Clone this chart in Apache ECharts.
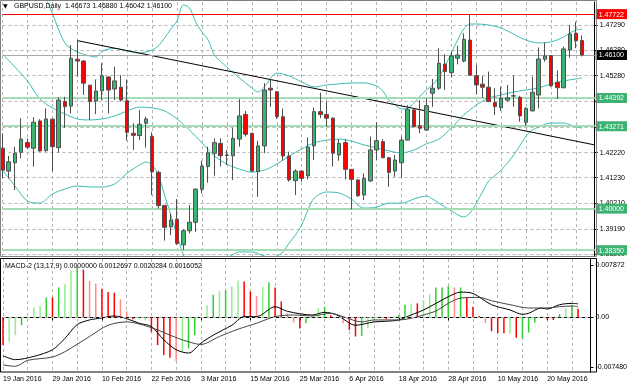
<!DOCTYPE html>
<html><head><meta charset="utf-8">
<script src="https://cdn.jsdelivr.net/npm/echarts@6/dist/echarts.min.js"></script>
<style>html,body{margin:0;padding:0;background:#fff}#c{width:630px;height:388px}</style>
</head><body><div id="c"></div>
<script>
const dates = ['19 Jan 2016','20 Jan 2016','21 Jan 2016','22 Jan 2016','25 Jan 2016','26 Jan 2016','27 Jan 2016','28 Jan 2016','29 Jan 2016',
'1 Feb 2016','2 Feb 2016','3 Feb 2016','4 Feb 2016','5 Feb 2016','8 Feb 2016','9 Feb 2016','10 Feb 2016','11 Feb 2016','12 Feb 2016',
'15 Feb 2016','16 Feb 2016','17 Feb 2016','18 Feb 2016','19 Feb 2016','22 Feb 2016','23 Feb 2016','24 Feb 2016','25 Feb 2016','26 Feb 2016','29 Feb 2016',
'1 Mar 2016','2 Mar 2016','3 Mar 2016','4 Mar 2016','7 Mar 2016','8 Mar 2016','9 Mar 2016','10 Mar 2016','11 Mar 2016','14 Mar 2016','15 Mar 2016',
'16 Mar 2016','17 Mar 2016','18 Mar 2016','21 Mar 2016','22 Mar 2016','23 Mar 2016','24 Mar 2016','25 Mar 2016','28 Mar 2016','29 Mar 2016','30 Mar 2016','31 Mar 2016',
'1 Apr 2016','4 Apr 2016','5 Apr 2016','6 Apr 2016','7 Apr 2016','8 Apr 2016','11 Apr 2016','12 Apr 2016','13 Apr 2016','14 Apr 2016','15 Apr 2016',
'18 Apr 2016','19 Apr 2016','20 Apr 2016','21 Apr 2016','22 Apr 2016','25 Apr 2016','26 Apr 2016','27 Apr 2016','28 Apr 2016','29 Apr 2016',
'2 May 2016','3 May 2016','4 May 2016','5 May 2016','6 May 2016','9 May 2016','10 May 2016','11 May 2016','12 May 2016','13 May 2016',
'16 May 2016','17 May 2016','18 May 2016','19 May 2016','20 May 2016','23 May 2016','24 May 2016','25 May 2016','26 May 2016','27 May 2016'];

const openP  = [1.4240,1.4149,1.4182,1.4224,1.4263,1.4240,1.4348,1.4230,1.4355,1.4242,1.4425,1.4407,1.4593,1.4586,1.4490,1.4427,1.4468,1.4523,1.4475,1.4482,
1.4428,1.4299,1.4290,1.4339,1.4286,1.4144,1.4013,1.3928,1.3958,1.3856,1.3912,1.3946,1.4077,1.4167,1.4220,1.4259,1.4211,1.4210,1.4276,1.4374,
1.4299,1.4147,1.4249,1.4478,1.4464,1.4365,1.4209,1.4111,1.4149,1.4130,1.4249,1.4385,1.4374,1.4359,1.4213,1.4262,1.4156,1.4114,1.4054,1.4110,
1.4233,1.4266,1.4202,1.4149,1.4182,1.4272,1.4392,1.4329,1.4312,1.4458,1.4478,1.4574,1.4540,1.4597,1.4586,1.4669,1.4528,1.4494,1.4482,1.4421,
1.4401,1.4431,1.4448,1.4442,1.4343,1.4388,1.4451,1.4593,1.4607,1.4502,1.4480,1.4630,1.4696,1.46673];
const highP  = [1.4299,1.4209,1.4246,1.4359,1.4279,1.4363,1.4355,1.4398,1.4359,1.4442,1.4444,1.4650,1.4667,1.4589,1.4491,1.4513,1.4577,1.4524,1.4563,1.4530,
1.4513,1.4339,1.4392,1.4365,1.4303,1.4151,1.4014,1.3981,1.4038,1.3918,1.4014,1.4081,1.4190,1.4246,1.4279,1.4279,1.4233,1.4321,1.4435,1.4388,
1.4301,1.4269,1.4498,1.4513,1.4466,1.4398,1.4226,1.4156,1.4153,1.4283,1.4402,1.4460,1.4425,1.4363,1.4276,1.4276,1.4157,1.4116,1.4140,1.4286,
1.4343,1.4276,1.4206,1.4213,1.4286,1.4411,1.4398,1.4431,1.4438,1.4515,1.4637,1.4613,1.4623,1.4647,1.4696,1.4772,1.4570,1.4527,1.4544,1.4478,
1.4484,1.4491,1.4530,1.4448,1.4402,1.4524,1.4640,1.4660,1.4610,1.4548,1.4643,1.4729,1.4742,1.46880];
const lowP   = [1.4120,1.4120,1.4074,1.4200,1.4236,1.4167,1.4226,1.4226,1.4147,1.4222,1.4321,1.4378,1.4524,1.4451,1.4352,1.4375,1.4431,1.4378,1.4431,1.4425,
1.4270,1.4233,1.4272,1.4242,1.4054,1.4001,1.3873,1.3895,1.3856,1.3836,1.3902,1.3908,1.4061,1.4103,1.4131,1.4167,1.4173,1.4114,1.4246,1.4286,
1.4147,1.4047,1.4220,1.4404,1.4356,1.4190,1.4107,1.4054,1.4107,1.4116,1.4193,1.4359,1.4325,1.4167,1.4190,1.4116,1.3997,1.4047,1.4034,1.4107,
1.4193,1.4200,1.4087,1.4127,1.4124,1.4270,1.4323,1.4299,1.4309,1.4404,1.4471,1.4471,1.4520,1.4573,1.4581,1.4527,1.4454,1.4440,1.4423,1.4372,
1.4388,1.4425,1.4404,1.4345,1.4329,1.4386,1.4398,1.4583,1.4484,1.4435,1.4478,1.4599,1.4637,1.46042];
const closeP = [1.4153,1.4186,1.4220,1.4276,1.4244,1.4343,1.4229,1.4356,1.4246,1.4431,1.4405,1.4597,1.4586,1.4498,1.4425,1.4467,1.4527,1.4471,1.4507,1.4431,
1.4303,1.4291,1.4335,1.4356,1.4147,1.4012,1.3926,1.3955,1.3862,1.3912,1.3946,1.4077,1.4169,1.4222,1.4262,1.4210,1.4213,1.4279,1.4368,1.4295,
1.4149,1.4249,1.4471,1.4471,1.4365,1.4209,1.4114,1.4149,1.4120,1.4244,1.4385,1.4374,1.4359,1.4220,1.4259,1.4156,1.4116,1.4051,1.4120,1.4233,
1.4270,1.4202,1.4144,1.4193,1.4272,1.4394,1.4325,1.4319,1.4409,1.4478,1.4577,1.4544,1.4606,1.4610,1.4672,1.4530,1.4491,1.4482,1.4425,1.4405,
1.4438,1.4440,1.4447,1.4368,1.4398,1.4462,1.4594,1.4606,1.4488,1.4480,1.4634,1.4693,1.4666,1.46100];

// Bollinger bands: [bar index, price]
const bbUpperPts = [[0,1.505],[4,1.492],[7,1.483],[10,1.4658],[12,1.4622],[14,1.4606],[15,1.4602],[16,1.4626],[18,1.4636],[20,1.4626],[22,1.4618],
[24,1.4630],[25,1.4646],[26,1.4677],[27,1.4713],[28,1.4745],[29,1.4809],[30,1.4796],[31,1.4741],[32,1.4701],[33,1.4669],[34,1.4610],[36,1.4562],
[38,1.4519],[40,1.4479],[41,1.4463],[42,1.4483],[44,1.4538],[46,1.4527],[48,1.4503],[50,1.4483],[52,1.4491],[54,1.4495],[56,1.4499],[58,1.4499],
[60,1.4487],[61,1.4467],[62,1.4431],[63,1.4411],[64,1.4396],[65,1.4399],[66,1.4419],[67,1.4447],[68,1.4471],[69,1.4491],[70,1.4523],[71,1.4566],
[72,1.4618],[73,1.4669],[74,1.4713],[75,1.4733],[76,1.4733],[78,1.4729],[80,1.4717],[82,1.4693],[84,1.4669],[86,1.4658],[88,1.4662],[90,1.4681],
[91,1.4697],[92,1.4709],[93,1.4713]];
const bbMiddlePts = [[0,1.4614],[2,1.4562],[4,1.4507],[6,1.4435],[8,1.4400],[10,1.4376],[12,1.4356],[14,1.4352],[16,1.4356],[18,1.4368],[20,1.4388],
[22,1.4403],[24,1.4400],[26,1.4388],[28,1.4356],[30,1.4312],[32,1.4261],[34,1.4209],[36,1.4177],[38,1.4157],[40,1.4145],[42,1.4153],[44,1.4177],
[46,1.4209],[48,1.4237],[50,1.4261],[52,1.4272],[54,1.4276],[56,1.4268],[58,1.4253],[60,1.4241],[62,1.4229],[64,1.4221],[66,1.4233],[68,1.4257],
[70,1.4276],[72,1.4320],[74,1.4372],[76,1.4411],[78,1.4439],[80,1.4451],[82,1.4463],[84,1.4471],[86,1.4479],[88,1.4495],[90,1.4507],[92,1.4515],[93,1.4519]];
const bbLowerPts = [[0,1.4153],[2,1.4090],[4,1.4030],[6,1.4022],[8,1.4058],[10,1.4078],[12,1.4090],[14,1.4086],[16,1.4086],[18,1.4098],[20,1.4141],
[22,1.4173],[23,1.4185],[24,1.4173],[25,1.4134],[26,1.4054],[27,1.3975],[28,1.3895],[29,1.3816],[30,1.3765],[31,1.3740],[32,1.3725],[33,1.3740],
[34,1.3770],[35,1.3795],[36,1.3804],[38,1.3828],[40,1.3828],[42,1.3812],[43,1.3808],[44,1.3812],[45,1.3828],[46,1.3864],[47,1.3895],[48,1.3935],
[49,1.3995],[50,1.4042],[52,1.4066],[54,1.4062],[56,1.4038],[57,1.4014],[58,1.4002],[60,1.4006],[62,1.4022],[64,1.4022],[66,1.4038],[67,1.4046],
[68,1.4050],[69,1.4038],[70,1.4022],[72,1.3991],[74,1.3967],[75,1.3983],[76,1.4022],[77,1.4066],[78,1.4110],[80,1.4153],[82,1.4213],[84,1.4288],
[85,1.4312],[86,1.4324],[88,1.4340],[90,1.4340],[92,1.4324],[93,1.4320]];

const trendLine = [[12,1.4667],[95,1.4253]];
const resistanceLevel = 1.47722;
const bidLevel = 1.46100;
const supportLevels = [1.44392,1.43271,1.40000,1.38350];
const priceTicks = [1.47290,1.46280,1.45280,1.44260,1.43250,1.42220,1.41230,1.40210,1.39190,1.38200];

// MACD-2 (13,17,9)
const macdHist = [-0.0042,-0.0037,-0.0027,-0.0012,-0.0002,0.0015,0.0017,0.0030,0.0030,0.0045,0.0050,0.0070,0.0075,0.0072,0.0055,0.0051,0.0043,0.0038,0.0037,0.0027,
0.0009,-0.0003,-0.0003,-0.0005,-0.0022,-0.0042,-0.0057,-0.0061,-0.0066,-0.0052,-0.0047,-0.0027,-0.0001,0.0018,0.0034,0.0040,0.0041,0.0047,0.0055,0.0054,
0.0039,0.0032,0.0046,0.0053,0.0045,0.0024,0.0006,-0.0008,-0.0017,-0.0009,0.0004,0.0014,0.0016,0.0003,0.0001,-0.0009,-0.0019,-0.0029,-0.0028,-0.0016,
-0.0007,0.0001,-0.0003,0.0001,0.0003,0.0019,0.0021,0.0021,0.0026,0.0035,0.0045,0.0045,0.0047,0.0045,0.0045,0.0030,0.0016,0.0002,-0.0009,-0.0021,
-0.0024,-0.0024,-0.0025,-0.0031,-0.0032,-0.0023,-0.0008,0.0002,-0.0003,-0.0004,0.0005,0.0014,0.0019,0.0013];
const macdHistColor = ['R','g','g','G','g','g','g','G','R','G','g','g','G','R','r','r','R','R','R','r',
'r','R','g','g','R','R','R','R','r','g','G','G','g','g','G','g','G','g','g','R',
'R','r','g','G','R','R','r','r','R','G','g','g','G','R','r','r','R','R','G','g',
'g','G','R','g','G','G','g','R','g','g','G','G','G','r','G','R','R','R','r','R',
'R','R','g','R','G','G','G','g','R','R','G','g','G','R'];
const macdMainPts = [[0,-0.0058],[2,-0.0064],[5,-0.0059],[8,-0.0049],[10,-0.0032],[12,-0.0011],[14,-0.0004],[16,-0.0001],[18,0.0002],[20,-0.0002],
[22,-0.0009],[24,-0.0014],[26,-0.0034],[28,-0.0049],[30,-0.0054],[32,-0.0039],[34,-0.0027],[37,-0.0012],[39,0.0001],[41,0.0001],[44,0.0016],
[46,0.0009],[50,0.00035],[52,0.00075],[54,0.00035],[57,-0.0012],[60,-0.0007],[62,-0.0006],[64,-0.0004],[66,0.00035],[68,0.0011],[70,0.0021],
[72,0.0031],[74,0.0038],[76,0.0036],[79,0.0019],[82,0.0011],[84,0.00045],[85,0.0006],[87,0.0014],[88,0.00125],[90,0.0019],[92,0.0021],[93,0.0020284]];
const macdSignalPts = [[0,-0.0072],[2,-0.0074],[4,-0.0065],[8,-0.0060],[10,-0.0052],[14,-0.0029],[17,-0.0012],[20,-0.0007],[22,-0.0010],[25,-0.0019],
[27,-0.0027],[30,-0.0037],[32,-0.0041],[35,-0.0029],[38,-0.0018],[41,-0.0009],[44,0.0001],[47,0.00035],[50,0.0002],[53,0.0006],[55,0.0001],
[58,-0.0007],[60,-0.0004],[64,-0.0004],[66,-0.00015],[68,0.00035],[70,0.00095],[72,0.0021],[74,0.0029],[77,0.0030],[79,0.0025],[82,0.0019],
[85,0.0014],[88,0.0014],[90,0.0016],[92,0.0017],[93,0.0016052]];
const macdTicks = [0.007872, 0, -0.007480];

const cats = dates.concat(['', '']);
function sparse(pts) { const a = new Array(cats.length).fill(null); pts.forEach(p => { a[p[0]] = p[1]; }); return a; }
const FONT = 'Liberation Sans';
const colorMap = { G: '#32cd32', g: '#90ee90', R: '#ff0000', r: '#ff8c8c' };

const candleData = dates.map((d, i) => [openP[i], closeP[i], lowP[i], highP[i]]);
const histData = macdHist.map((v, i) => ({ value: v, itemStyle: { color: colorMap[macdHistColor[i]] } }));

const levelValues = [resistanceLevel, bidLevel].concat(supportLevels);
const levelKind = {};
levelKind[resistanceLevel.toFixed(5)] = 'r';
levelKind[bidLevel.toFixed(5)] = 'b';
supportLevels.forEach(v => { levelKind[v.toFixed(5)] = 'g'; });

const levelLines = [
  { yAxis: resistanceLevel, lineStyle: { color: '#ff0000', width: 1, type: 'solid' } },
  { yAxis: bidLevel, lineStyle: { color: '#a8a8a8', width: 1, type: 'solid' } }
].concat(supportLevels.map(v => ({ yAxis: v, lineStyle: { color: '#a3dcb5', width: 2, type: 'solid' } })));

const boxStyle = (bg) => ({ backgroundColor: bg, color: '#fff', padding: [2, 3, 1, 3], fontSize: 7, fontFamily: FONT });

const chart = echarts.init(document.getElementById('c'), null, { renderer: 'canvas' });
const dash = { color: '#b4b4b4', type: [3, 3], width: 1 };
const PMIN = 1.3812, PMAX = 1.48203;
chart.setOption({
  animation: false,
  backgroundColor: '#fff',
  grid: [
    { left: 2.5, right: 34, top: 2, height: 254 },
    { left: 2.5, right: 34, top: 259, height: 113 }
  ],
  xAxis: [
    { type: 'category', gridIndex: 0, data: cats, boundaryGap: false,
      axisLine: { show: false }, axisTick: { show: false }, axisLabel: { show: false },
      splitLine: { show: true, interval: 3, lineStyle: dash } },
    { type: 'category', gridIndex: 1, data: cats, boundaryGap: false,
      axisLine: { show: true, lineStyle: { color: '#000', width: 1 } },
      axisTick: { show: true, length: 3, interval: (i) => i % 8 === 0 && i < dates.length, lineStyle: { color: '#000' } },
      axisLabel: { show: true, interval: (i) => i % 8 === 0 && i < dates.length, align: 'left', margin: 4,
        fontSize: 7, fontFamily: FONT, color: '#000' },
      splitLine: { show: true, interval: 3, lineStyle: dash } }
  ],
  yAxis: [
    { type: 'value', gridIndex: 0, position: 'right', min: PMIN, max: PMAX,
      axisLine: { show: true, lineStyle: { color: '#000' } },
      axisTick: { show: true, length: 3, customValues: priceTicks, lineStyle: { color: '#000' } },
      axisLabel: { show: true, customValues: priceTicks, margin: 5, fontSize: 7, fontFamily: FONT, color: '#000',
        formatter: v => v.toFixed(5) },
      splitLine: { show: true, lineStyle: dash } },
    { type: 'value', gridIndex: 1, position: 'right', min: -0.00826, max: 0.0088,
      axisLine: { show: true, lineStyle: { color: '#000' } },
      axisTick: { show: true, length: 3, customValues: macdTicks, lineStyle: { color: '#000' } },
      axisLabel: { show: true, customValues: macdTicks, margin: 5, fontSize: 7, fontFamily: FONT, color: '#000',
        formatter: v => (v === 0 ? '0.00' : v.toFixed(6)) },
      splitLine: { show: false } },
    { type: 'value', gridIndex: 0, position: 'right', min: PMIN, max: PMAX,
      axisLine: { show: false }, axisTick: { show: false }, splitLine: { show: false },
      axisLabel: { show: true, customValues: levelValues, margin: 1,
        formatter: v => { const k = levelKind[v.toFixed(5)] || 'g'; return '{' + k + '|' + v.toFixed(5) + '}'; },
        rich: { r: boxStyle('#ff0000'), b: boxStyle('#000000'), g: boxStyle('#3cb371') } } }
  ],
  series: [
    { name: 'bbUpper', type: 'line', xAxisIndex: 0, yAxisIndex: 0, data: sparse(bbUpperPts), connectNulls: true, smooth: 0.3,
      symbol: 'none', lineStyle: { color: '#3cbcb4', width: 1 }, z: 3 },
    { name: 'bbMiddle', type: 'line', xAxisIndex: 0, yAxisIndex: 0, data: sparse(bbMiddlePts), connectNulls: true, smooth: 0.3,
      symbol: 'none', lineStyle: { color: '#3cbcb4', width: 1 }, z: 3 },
    { name: 'bbLower', type: 'line', xAxisIndex: 0, yAxisIndex: 0, data: sparse(bbLowerPts), connectNulls: true, smooth: 0.3,
      symbol: 'none', lineStyle: { color: '#3cbcb4', width: 1 }, z: 3 },
    { name: 'levels', type: 'line', xAxisIndex: 0, yAxisIndex: 0, data: [], z: 2,
      markLine: { symbol: 'none', silent: true, animation: false, precision: 6, label: { show: false }, data: levelLines } },
    { name: 'trend', type: 'line', xAxisIndex: 0, yAxisIndex: 0, data: sparse(trendLine), connectNulls: true,
      symbol: 'none', lineStyle: { color: '#000', width: 1 }, z: 4 },
    { name: 'GBPUSD', type: 'candlestick', xAxisIndex: 0, yAxisIndex: 0, data: candleData, barWidth: 4, clip: false, z: 5,
      itemStyle: { color: '#3cb371', color0: '#ff0000', borderColor: '#505050', borderColor0: '#505050', borderWidth: 1 } },
    { name: 'hist', type: 'bar', xAxisIndex: 1, yAxisIndex: 1, data: histData, barWidth: 1.5, z: 3,
      markLine: { symbol: 'none', silent: true, precision: 6, label: { show: false },
        lineStyle: { color: '#b4b4b4', type: [3, 3], width: 1 }, data: [{ yAxis: 0 }] } },
    { name: 'main', type: 'line', xAxisIndex: 1, yAxisIndex: 1, data: sparse(macdMainPts), connectNulls: true, smooth: 0.3,
      symbol: 'none', lineStyle: { color: '#000', width: 1 }, z: 4 },
    { name: 'signal', type: 'line', xAxisIndex: 1, yAxisIndex: 1, data: sparse(macdSignalPts), connectNulls: true, smooth: 0.3,
      symbol: 'none', lineStyle: { color: '#444', width: 1 }, z: 4 }
  ],
  graphic: [
    { type: 'rect', shape: { x: 0.5, y: 0.5, width: 596, height: 256 }, style: { fill: 'none', stroke: '#808080', lineWidth: 1 }, z: 100, silent: true },
    { type: 'rect', shape: { x: 0.5, y: 258.5, width: 596, height: 113.5 }, style: { fill: 'none', stroke: '#000', lineWidth: 1 }, z: 100, silent: true },
    { type: 'text', left: 3, top: 3, style: { text: '▼', fontSize: 6, fontFamily: 'DejaVu Sans', fill: '#000' }, z: 101 },
    { type: 'text', left: 14, top: 3, style: { text: 'GBPUSD,Daily  1.46673 1.46880 1.46042 1.46100', fontSize: 7, fontFamily: FONT, fill: '#000' }, z: 101 },
    { type: 'text', left: 5, top: 263, style: { text: 'MACD-2 (13,17,9) 0.0000000 0.0012697 0.0020284 0.0016052', fontSize: 7, fontFamily: FONT, fill: '#000' }, z: 101 }
  ]
});
</script></body></html>
